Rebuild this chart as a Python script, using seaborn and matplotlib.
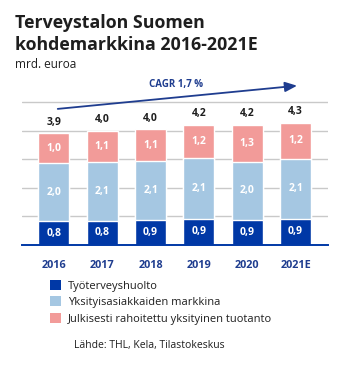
import matplotlib
matplotlib.use("Agg")
import matplotlib.pyplot as plt
from matplotlib.patches import Patch
import seaborn as sns
import pandas as pd
import numpy as np

years = ["2016", "2017", "2018", "2019", "2020", "2021E"]
tyoterveys = [0.83, 0.84, 0.87, 0.91, 0.89, 0.92]
yksityis = [2.04, 2.08, 2.07, 2.12, 2.00, 2.10]
julkisesti = [1.03, 1.08, 1.10, 1.18, 1.30, 1.24]
series_names = ["Työterveyshuolto", "Yksityisasiakkaiden markkina",
                "Julkisesti rahoitettu yksityinen tuotanto"]
cagr_label = "CAGR 1,7 %"
title = "Terveystalon Suomen\nkohdemarkkina 2016-2021E"
subtitle = "mrd. euroa"
source = "Lähde: THL, Kela, Tilastokeskus"

c_dark = "#0038A6"
c_light = "#A5C7E2"
c_pink = "#F29B99"
c_text = "#1e1e1e"

sns.set_theme(style="white")
plt.rcParams['font.family'] = ['Open Sans', 'DejaVu Sans']

df = pd.DataFrame({"year": years, "a": tyoterveys, "b": yksityis, "c": julkisesti})
df["ab"] = df["a"] + df["b"]
df["abc"] = df["ab"] + df["c"]

fig = plt.figure(figsize=(3.57, 3.74), dpi=100)
W, H = 357, 374
ax_left, ax_right, ax_bottom, ax_top = 22, 328, 245, 70
ax = fig.add_axes([ax_left / W, 1 - ax_bottom / H, (ax_right - ax_left) / W, (ax_bottom - ax_top) / H])

bw = 0.64
for col, color in [("abc", c_pink), ("ab", c_light), ("a", c_dark)]:
    sns.barplot(data=df, x="year", y=col, color=color, saturation=1, width=bw, ax=ax, zorder=3)

ax.set_xlim(-0.66, 5.67)
ax.set_ylim(0, 6.12)
ax.set_yticks([1, 2, 3, 4, 5])
ax.yaxis.grid(True, color="#c9c9c9", linewidth=1.0, zorder=0)
ax.set_axisbelow(True)
ax.tick_params(axis="y", left=False, labelleft=False)
ax.tick_params(axis="x", bottom=False, pad=5)
for s in ["top", "right", "left"]:
    ax.spines[s].set_visible(False)
ax.spines["bottom"].set_color(c_dark)
ax.spines["bottom"].set_linewidth(1.4)
ax.spines["bottom"].set_zorder(5)
ax.set_xlabel("")
ax.set_ylabel("")
for lab in ax.get_xticklabels():
    lab.set_fontweight("bold")
    lab.set_color("#1f3d8f")
    lab.set_fontsize(7.8)

def fmt(v):
    return f"{v:.1f}".replace(".", ",")

for i in range(len(years)):
    a, b, c = tyoterveys[i], yksityis[i], julkisesti[i]
    for y, v in [(a / 2, a), (a + b / 2, b), (a + b + c / 2, c)]:
        ax.text(i, y, fmt(v), ha="center", va="center", color="white",
                fontsize=7.5, fontweight="bold", zorder=6)
    ax.text(i, a + b + c + 0.40, fmt(a + b + c), ha="center", va="center",
            color=c_text, fontsize=7.5, fontweight="bold", zorder=6)

ax.annotate("", xy=(5.03, 5.57), xytext=(0.08, 4.76), annotation_clip=False,
            arrowprops=dict(arrowstyle="-|>,head_length=0.6,head_width=0.25",
                            color="#1f3d8f", lw=1.3, shrinkA=0, shrinkB=0))
ax.text(2.53, 5.60, cagr_label, ha="center", va="center", color="#1f3d8f",
        fontsize=7, fontweight="bold", clip_on=False)

fig.text(15 / W, 1 - 13.5 / H, title, ha="left", va="top", fontsize=12.8,
         fontweight="bold", color=c_text, linespacing=1.32)
fig.text(15 / W, 1 - 64 / H, subtitle, ha="left", va="center", fontsize=8.5,
         color=c_text)

handles = [Patch(facecolor=c, edgecolor="none") for c in (c_dark, c_light, c_pink)]
fig.legend(handles, series_names, loc="upper left", bbox_to_anchor=(50 / W, 1 - 280 / H),
           frameon=False, fontsize=8, handlelength=1.0, handleheight=1.0,
           handletextpad=0.6, labelspacing=0.42, borderaxespad=0, borderpad=0,
           labelcolor=c_text)
fig.text(74 / W, 1 - 345.5 / H, source, ha="left", va="center", fontsize=7.5, color=c_text)

fig.savefig("out.png", dpi=100)
